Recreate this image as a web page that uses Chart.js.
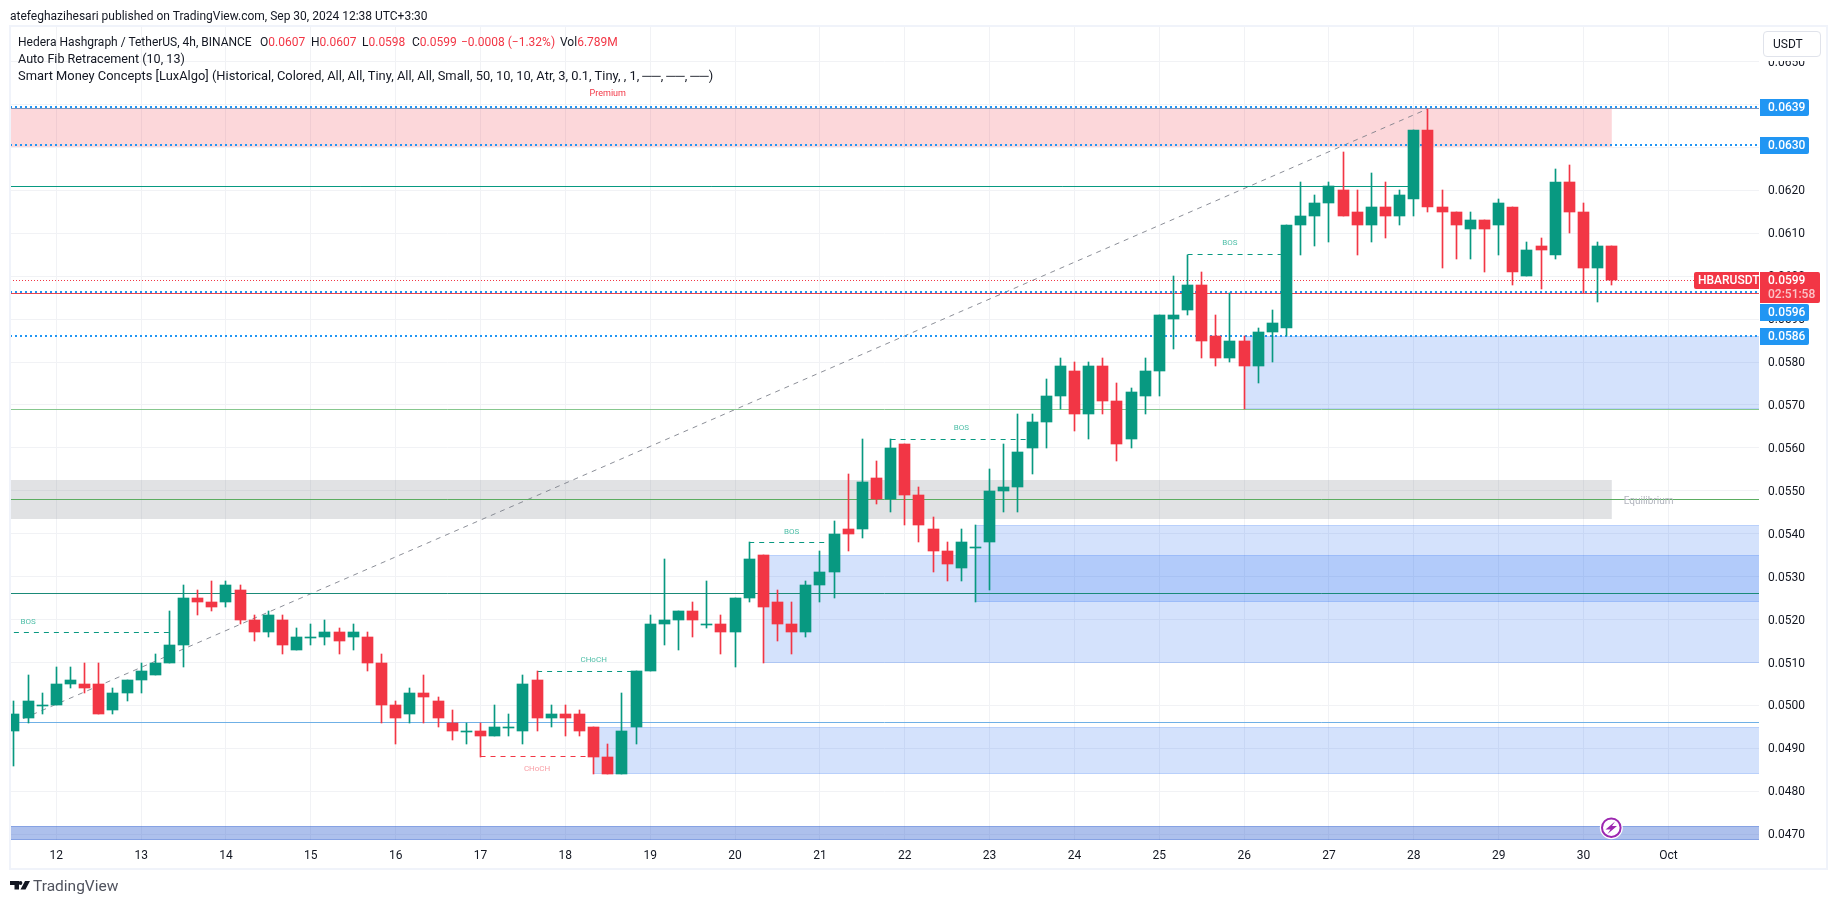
<!DOCTYPE html>
<html>
<head>
<meta charset="utf-8">
<title>HBARUSDT</title>
<script src="https://cdn.jsdelivr.net/npm/chart.js@4"></script>
<style>
    html, body { margin: 0; background: #fff; }
    body { width: 1835px; height: 903px; position: relative; overflow: hidden; font-family: Roboto, sans-serif; color: #131722; }
    canvas { position: absolute; left: 0; top: 0; }
    .txt { position: absolute; white-space: nowrap; font-size: 12px; line-height: 16px; }
    .red { color: #f23645; }
    #frame { position: absolute; left: 9px; top: 25px; width: 1815px; height: 841px; border: 2px solid #f0f3fa; pointer-events: none; }
    #unit { position: absolute; left: 1763px; top: 31px; width: 56px; height: 24px; border: 1px solid #e0e3eb; border-radius: 4px; background: #fff; box-shadow: 0 0 0 4px #fff; font-size: 12px; line-height: 24px; text-indent: 9px; }
    svg { position: absolute; left: 0; top: 0; pointer-events: none; }
</style>
</head>
<body>
<canvas id="chart" width="1835" height="903"></canvas>
<div id="unit">USDT</div>
<div id="frame"></div>

<div class="txt" style="left:10px;top:8px">atefeghazihesari published on TradingView.com, Sep 30, 2024 12:38 UTC+3:30</div>
<div class="txt" style="left:18px;top:34px">Hedera Hashgraph / TetherUS, 4h, BINANCE</div>
<div class="txt" style="left:260px;top:34px">O<span class="red">0.0607</span></div>
<div class="txt" style="left:311px;top:34px">H<span class="red">0.0607</span></div>
<div class="txt" style="left:362px;top:34px">L<span class="red">0.0598</span></div>
<div class="txt" style="left:412px;top:34px">C<span class="red">0.0599</span></div>
<div class="txt red" style="left:461px;top:34px">−0.0008 (−1.32%)</div>
<div class="txt" style="left:560px;top:34px">Vol<span class="red">6.789M</span></div>
<div class="txt" style="left:18px;top:51px;font-size:12.6px">Auto Fib Retracement (10, 13)</div>
<div class="txt" style="left:18px;top:68px;font-size:12.9px">Smart Money Concepts [LuxAlgo] (Historical, Colored, All, All, Tiny, All, All, Small, 50, 10, 10, Atr, 3, 0.1, Tiny, , 1, ──, ──, ──)</div>

<svg width="1835" height="903">
    <path d="M10 881H19V889.5H14.5V885H10Z M25 881H30L25.5 889.5H20.5Z" fill="#131722"/>
    <circle cx="20.5" cy="883" r="1.9" fill="#131722"/>
    <circle cx="1611.3" cy="827.7" r="11.5" fill="#fff"/>
    <circle cx="1611.3" cy="827.7" r="9.3" fill="#fff" stroke="#9c27b0" stroke-width="2"/>
    <path d="M1615 821.5L1605.5 829.5H1610.5L1607.5 834L1617 826H1612Z" fill="#9c27b0"/>
</svg>
<div class="txt" style="left:33px;top:877px;font-size:15.5px;line-height:18px;color:#50535e">TradingView</div>

<script>
// 4h candles, first one is Sep 11 12:00
const opens = [
    0.0494, 0.0497, 0.0500, 0.0500, 0.0505, 0.0505, 0.0505, 0.0499, 0.0503, 0.0506,
    0.0507, 0.0510, 0.0514, 0.0525, 0.0524, 0.0524, 0.0527, 0.0520, 0.0517, 0.0520,
    0.0513, 0.0516, 0.0516, 0.0517, 0.0516, 0.0516, 0.0510, 0.0500, 0.0498, 0.0503,
    0.0501, 0.0496, 0.0494, 0.0494, 0.0493, 0.0495, 0.0494, 0.0506, 0.0497, 0.0498,
    0.0498, 0.0495, 0.0488, 0.0484, 0.0495, 0.0508, 0.0519, 0.0520, 0.0522, 0.0519,
    0.0519, 0.0517, 0.0525, 0.0535, 0.0524, 0.0519, 0.0517, 0.0528, 0.0531, 0.0541,
    0.0541, 0.0553, 0.0548, 0.0561, 0.0549, 0.0541, 0.0536, 0.0532, 0.0537, 0.0538,
    0.0550, 0.0551, 0.0560, 0.0566, 0.0572, 0.0578, 0.0568, 0.0579, 0.0571, 0.0562,
    0.0572, 0.0578, 0.0590, 0.0592, 0.0598, 0.0586, 0.0581, 0.0585, 0.0579, 0.0587,
    0.0588, 0.0612, 0.0614, 0.0617, 0.0620, 0.0615, 0.0612, 0.0616, 0.0614, 0.0618,
    0.0634, 0.0616, 0.0615, 0.0611, 0.0613, 0.0612, 0.0616, 0.0600, 0.0607, 0.0605,
    0.0622, 0.0615, 0.0602, 0.0607
];
const highs = [
    0.0501, 0.0507, 0.0503, 0.0509, 0.0509, 0.0510, 0.0510, 0.0504, 0.0506, 0.0510,
    0.0512, 0.0522, 0.0528, 0.0527, 0.0529, 0.0529, 0.0528, 0.0521, 0.0522, 0.0521,
    0.0518, 0.0519, 0.0520, 0.0518, 0.0519, 0.0517, 0.0512, 0.0501, 0.0504, 0.0507,
    0.0502, 0.0499, 0.0496, 0.0496, 0.0500, 0.0498, 0.0507, 0.0508, 0.0500, 0.0500,
    0.0499, 0.0495, 0.0491, 0.0503, 0.0508, 0.0521, 0.0534, 0.0522, 0.0524, 0.0529,
    0.0521, 0.0525, 0.0538, 0.0535, 0.0527, 0.0524, 0.0529, 0.0536, 0.0543, 0.0554,
    0.0562, 0.0557, 0.0562, 0.0561, 0.0551, 0.0544, 0.0538, 0.0541, 0.0542, 0.0555,
    0.0561, 0.0568, 0.0568, 0.0576, 0.0581, 0.0580, 0.0580, 0.0581, 0.0575, 0.0574,
    0.0581, 0.0591, 0.0600, 0.0605, 0.0601, 0.0591, 0.0596, 0.0586, 0.0588, 0.0592,
    0.0612, 0.0622, 0.0619, 0.0622, 0.0629, 0.0620, 0.0624, 0.0622, 0.0620, 0.0634,
    0.0639, 0.0620, 0.0615, 0.0615, 0.0613, 0.0618, 0.0616, 0.0608, 0.0609, 0.0625,
    0.0626, 0.0617, 0.0608, 0.0607
];
const lows = [
    0.0486, 0.0496, 0.0498, 0.0500, 0.0504, 0.0503, 0.0498, 0.0498, 0.0501, 0.0503,
    0.0507, 0.0510, 0.0509, 0.0521, 0.0522, 0.0523, 0.0519, 0.0515, 0.0516, 0.0512,
    0.0513, 0.0514, 0.0514, 0.0512, 0.0513, 0.0508, 0.0496, 0.0491, 0.0496, 0.0496,
    0.0495, 0.0492, 0.0491, 0.0488, 0.0493, 0.0493, 0.0491, 0.0494, 0.0495, 0.0493,
    0.0493, 0.0484, 0.0484, 0.0484, 0.0491, 0.0508, 0.0514, 0.0513, 0.0516, 0.0518,
    0.0512, 0.0509, 0.0524, 0.0510, 0.0515, 0.0512, 0.0516, 0.0524, 0.0525, 0.0536,
    0.0539, 0.0547, 0.0545, 0.0542, 0.0538, 0.0531, 0.0529, 0.0529, 0.0524, 0.0527,
    0.0545, 0.0545, 0.0554, 0.0560, 0.0569, 0.0564, 0.0562, 0.0568, 0.0557, 0.0560,
    0.0568, 0.0572, 0.0583, 0.0591, 0.0581, 0.0579, 0.0580, 0.0569, 0.0575, 0.0580,
    0.0586, 0.0605, 0.0607, 0.0608, 0.0614, 0.0605, 0.0608, 0.0609, 0.0612, 0.0614,
    0.0615, 0.0602, 0.0604, 0.0604, 0.0601, 0.0605, 0.0598, 0.0600, 0.0597, 0.0604,
    0.0610, 0.0596, 0.0594, 0.0598
];
const closes = [
    0.0498, 0.0501, 0.0500, 0.0505, 0.0506, 0.0504, 0.0498, 0.0503, 0.0506, 0.0508,
    0.0510, 0.0514, 0.0525, 0.0524, 0.0523, 0.0528, 0.0520, 0.0517, 0.0521, 0.0514,
    0.0516, 0.0516, 0.0517, 0.0515, 0.0517, 0.0510, 0.0500, 0.0497, 0.0503, 0.0502,
    0.0497, 0.0494, 0.0494, 0.0493, 0.0495, 0.0495, 0.0505, 0.0497, 0.0498, 0.0497,
    0.0494, 0.0488, 0.0484, 0.0494, 0.0508, 0.0519, 0.0520, 0.0522, 0.0520, 0.0519,
    0.0517, 0.0525, 0.0534, 0.0523, 0.0519, 0.0517, 0.0528, 0.0531, 0.0540, 0.0540,
    0.0552, 0.0548, 0.0560, 0.0549, 0.0542, 0.0536, 0.0533, 0.0538, 0.0537, 0.0550,
    0.0551, 0.0559, 0.0566, 0.0572, 0.0579, 0.0568, 0.0579, 0.0571, 0.0561, 0.0573,
    0.0578, 0.0591, 0.0591, 0.0598, 0.0585, 0.0581, 0.0585, 0.0579, 0.0587, 0.0589,
    0.0612, 0.0614, 0.0617, 0.0621, 0.0614, 0.0612, 0.0616, 0.0614, 0.0619, 0.0634,
    0.0616, 0.0615, 0.0612, 0.0613, 0.0611, 0.0617, 0.0601, 0.0606, 0.0606, 0.0622,
    0.0615, 0.0602, 0.0607, 0.0599
];

// x axis counts candles from Sep 12 00:00
const firstCandle = -3;
const axisStart = -3.274;
const axisEnd = 120.41;
const priceMin = 0.046866;
const priceMax = 0.065827;

const dayTicks = [0, 6, 12, 18, 24, 30, 36, 42, 48, 54, 60, 66, 72, 78, 84, 90, 96, 102, 108, 114];
const dayLabels = ['12', '13', '14', '15', '16', '17', '18', '19', '20', '21', '22', '23', '24', '25', '26', '27', '28', '29', '30', 'Oct'];
const priceTicks = [0.047, 0.048, 0.049, 0.050, 0.051, 0.052, 0.053, 0.054, 0.055, 0.056, 0.057, 0.058, 0.059, 0.060, 0.061, 0.062, 0.063, 0.064, 0.065];

// order blocks: left candle, top, bottom (they run to the right edge)
const blockStarts = [84, 65, 50, 38];
const blockTops = [0.0586, 0.0542, 0.0535, 0.0495];
const blockBottoms = [0.0569, 0.0524, 0.0510, 0.0484];
const oldBlockPrices = [0.0472, priceMin];
const premiumPrices = [0.0639, 0.0630];
const equilibriumPrices = [0.05525, 0.05435];
const zoneEndCandle = 110;

// levels across the whole pane
const fibHigh = 0.0639;
const fibLow = 0.0596;
const blueLevels = [0.06393, 0.06305, 0.05962, 0.05861];
const greenLevels = [0.0569, 0.0548];
const tealLevel = 0.0526;
const swingHigh = 0.0621;
const swingHighEnd = 96;
const swingLow = 0.0496;
const lastPrice = 0.0599;
const diagonalCandles = [-3, 97];
const diagonalPrices = [0.0496, 0.0639];

// market structure breaks
const breakPrices = [0.0517, 0.0508, 0.0538, 0.0562, 0.0605];
const breakStarts = [-3, 34, 49, 59, 80];
const breakEnds = [8.3, 41, 55, 69, 86.6];
const chochDownPrice = 0.0488;
const chochDownStart = 30;
const chochDownEnd = 38;

const chartLabels = ['BOS', 'CHoCH', 'CHoCH', 'BOS', 'BOS', 'BOS', 'Premium', 'Equilibrium'];
const labelCandles = [-2, 38, 34, 52, 64, 83, 39, 112.6];
const labelPrices = [0.05195, 0.05107, 0.04851, 0.05405, 0.05647, 0.06077, 0.06425, 0.05475];
const labelColors = ['#4fbfa8', '#4fbfa8', '#f9a0a7', '#4fbfa8', '#4fbfa8', '#4fbfa8', '#f23645', '#b2b5be'];

const tagPrices = [0.0639, 0.0630, 0.0596, 0.0586];
const tagLines = [0.06393, 0.06305, 0.05962, 0.05861];

const green = '#089981';
const red = '#f23645';
const gridColor = '#f1f2f5';
const fontName = 'Roboto, sans-serif';

function candleColors() {
    return opens.map((o, i) => closes[i] >= o ? green : red);
}

function levelLine(price, from, to, color, width, dash, order) {
    return {
        type: 'line',
        data: [{ x: from, y: price }, { x: to, y: price }],
        borderColor: color,
        borderWidth: width,
        borderDash: dash || [],
        pointRadius: 0,
        order: order || 5
    };
}

const lineSets = [];
lineSets.push(levelLine(fibHigh, axisStart, axisEnd, '#8093bb', 1));
lineSets.push(levelLine(fibLow, axisStart, axisEnd, '#e8434f', 1));
lineSets.push(levelLine(tealLevel, axisStart, axisEnd, '#1a8a78', 1));
lineSets.push(levelLine(swingHigh, axisStart, swingHighEnd, '#089981', 1));
lineSets.push(levelLine(swingLow, axisStart, axisEnd, '#6fb0e6', 1));
lineSets.push(levelLine(greenLevels[0], axisStart, axisEnd, '#86c78e', 1));
lineSets.push(levelLine(greenLevels[1], axisStart, axisEnd, '#5cad61', 1));
lineSets.push(levelLine(lastPrice, axisStart, axisEnd, red, 1, [1, 2]));
blueLevels.forEach(p => lineSets.push(levelLine(p, axisStart, axisEnd, '#2196f3', 2, [2, 3], 4)));
breakPrices.forEach((p, i) => lineSets.push(levelLine(p, breakStarts[i], breakEnds[i], green, 1, [5, 5])));
lineSets.push(levelLine(chochDownPrice, chochDownStart, chochDownEnd, red, 1, [5, 5]));
lineSets.push({
    type: 'line',
    data: diagonalCandles.map((c, i) => ({ x: c, y: diagonalPrices[i] })),
    borderColor: 'rgba(120,123,134,0.85)',
    borderWidth: 1,
    borderDash: [5, 5],
    pointRadius: 0,
    order: 5
});

// keep candles and levels on whole pixels like the original
const snapPlugin = {
    id: 'snap',
    beforeDatasetsDraw(chart) {
        chart.data.datasets.forEach((ds, i) => {
            const meta = chart.getDatasetMeta(i);
            if (ds.type === 'line') {
                if (ds.data[0].y !== ds.data[1].y) return;
                meta.data.forEach(p => {
                    p.y = ds.borderWidth === 2 ? Math.round(p.y) : Math.floor(p.y) + 0.5;
                });
                return;
            }
            meta.data.forEach(b => {
                b.x = Math.floor(b.x) + 0.5;
                b.y = Math.round(b.y);
                b.base = Math.round(b.base);
                if (Math.abs(b.base - b.y) < 1) b.base = b.y + 1;
            });
        });
    }
};

const zonePlugin = {
    id: 'zones',
    beforeDatasetsDraw(chart) {
        const { ctx, chartArea, scales: { x, y } } = chart;
        function box(startCandle, endCandle, top, bottom, fill, edge) {
            const left = x.getPixelForValue(startCandle);
            const right = x.getPixelForValue(endCandle);
            const t = Math.round(y.getPixelForValue(top));
            const b = Math.round(y.getPixelForValue(bottom));
            ctx.fillStyle = fill;
            ctx.fillRect(left, t, right - left, b - t);
            if (edge) {
                ctx.fillStyle = edge;
                ctx.fillRect(left, t, right - left, 1);
                ctx.fillRect(left, b - 1, right - left, 1);
            }
        }
        ctx.save();
        ctx.beginPath();
        ctx.rect(chartArea.left, chartArea.top, chartArea.width, chartArea.height);
        ctx.clip();
        box(axisStart, zoneEndCandle, premiumPrices[0], premiumPrices[1], 'rgba(242,54,69,0.2)');
        box(axisStart, zoneEndCandle, equilibriumPrices[0], equilibriumPrices[1], 'rgba(120,123,134,0.22)');
        blockStarts.forEach((s, i) => {
            box(s, axisEnd, blockTops[i], blockBottoms[i], 'rgba(41,110,240,0.2)', 'rgba(41,110,240,0.16)');
        });
        box(axisStart, axisEnd, oldBlockPrices[0], oldBlockPrices[1], 'rgba(60,105,210,0.42)', 'rgba(60,105,210,0.35)');
        ctx.restore();
    }
};

const labelPlugin = {
    id: 'labels',
    afterDatasetsDraw(chart) {
        const { ctx, scales: { x, y } } = chart;
        ctx.save();
        ctx.textAlign = 'center';
        ctx.textBaseline = 'middle';
        chartLabels.forEach((t, i) => {
            ctx.font = (t === 'BOS' || t === 'CHoCH' ? 8 : t === 'Premium' ? 9 : 10) + 'px ' + fontName;
            ctx.fillStyle = labelColors[i];
            ctx.fillText(t, x.getPixelForValue(labelCandles[i]), y.getPixelForValue(labelPrices[i]));
        });
        ctx.restore();
    }
};

const tagPlugin = {
    id: 'tags',
    afterDraw(chart) {
        const { ctx, chartArea, scales: { y } } = chart;
        const left = chartArea.right + 1;
        ctx.save();
        ctx.textBaseline = 'middle';

        // last price with countdown and symbol
        const last = Math.round(y.getPixelForValue(lastPrice));
        const lastBottom = last + 23;
        ctx.fillStyle = red;
        ctx.beginPath();
        ctx.roundRect(left, last - 8, 60, 31, [0, 2, 2, 0]);
        ctx.roundRect(chartArea.right - 65, last - 8, 65, 17, [2, 0, 0, 2]);
        ctx.fill();
        ctx.fillStyle = '#fff';
        ctx.font = '500 12px ' + fontName;
        ctx.fillText('HBARUSDT', chartArea.right - 61, last + 1);
        ctx.fillText(lastPrice.toFixed(4), left + 8, last + 1);
        ctx.fillStyle = 'rgba(255,255,255,0.7)';
        ctx.fillText('02:51:58', left + 8, last + 15);

        tagPrices.forEach((p, i) => {
            let py = Math.round(y.getPixelForValue(tagLines[i]));
            // a tag that would sit under the last price moves below it
            if (py - 8 < lastBottom && py + 9 > last - 8) py = lastBottom + 9;
            ctx.fillStyle = '#2196f3';
            ctx.beginPath();
            ctx.roundRect(left, py - 8, 49, 17, [0, 2, 2, 0]);
            ctx.fill();
            ctx.fillStyle = '#fff';
            ctx.fillText(p.toFixed(4), left + 8, py + 1);
        });
        ctx.restore();
    }
};

new Chart(document.getElementById('chart'), {
    type: 'bar',
    data: {
        datasets: [
            {
                data: opens.map((o, i) => ({ x: firstCandle + i, y: [o, closes[i]] })),
                backgroundColor: candleColors(),
                barThickness: 11,
                grouped: false,
                order: 0
            },
            {
                data: opens.map((o, i) => ({ x: firstCandle + i, y: [lows[i], highs[i]] })),
                backgroundColor: candleColors(),
                barThickness: 1,
                grouped: false,
                order: 1
            },
            ...lineSets
        ]
    },
    options: {
        responsive: false,
        animation: false,
        events: [],
        layout: { padding: { left: 10, top: 26, right: 0, bottom: 35 } },
        plugins: { legend: { display: false }, tooltip: { enabled: false } },
        scales: {
            x: {
                type: 'linear',
                min: axisStart,
                max: axisEnd,
                offset: false,
                afterBuildTicks: s => { s.ticks = dayTicks.map(v => ({ value: v })); },
                afterFit: s => { s.height = 28; },
                border: { display: false },
                grid: { color: gridColor, offset: false, drawTicks: false },
                ticks: {
                    autoSkip: false,
                    maxRotation: 0,
                    padding: 9,
                    color: '#131722',
                    font: { family: fontName, size: 12 },
                    callback: v => dayLabels[dayTicks.indexOf(v)]
                }
            },
            y: {
                position: 'right',
                min: priceMin,
                max: priceMax,
                afterBuildTicks: s => { s.ticks = priceTicks.map(v => ({ value: v })); },
                afterFit: s => { s.width = 76; },
                border: { display: false },
                grid: { color: gridColor, drawTicks: false },
                ticks: {
                    padding: 9,
                    labelOffset: 1,
                    color: '#131722',
                    font: { family: fontName, size: 12 },
                    callback: v => v.toFixed(4)
                }
            }
        }
    },
    plugins: [snapPlugin, zonePlugin, labelPlugin, tagPlugin]
});
</script>
</body>
</html>
